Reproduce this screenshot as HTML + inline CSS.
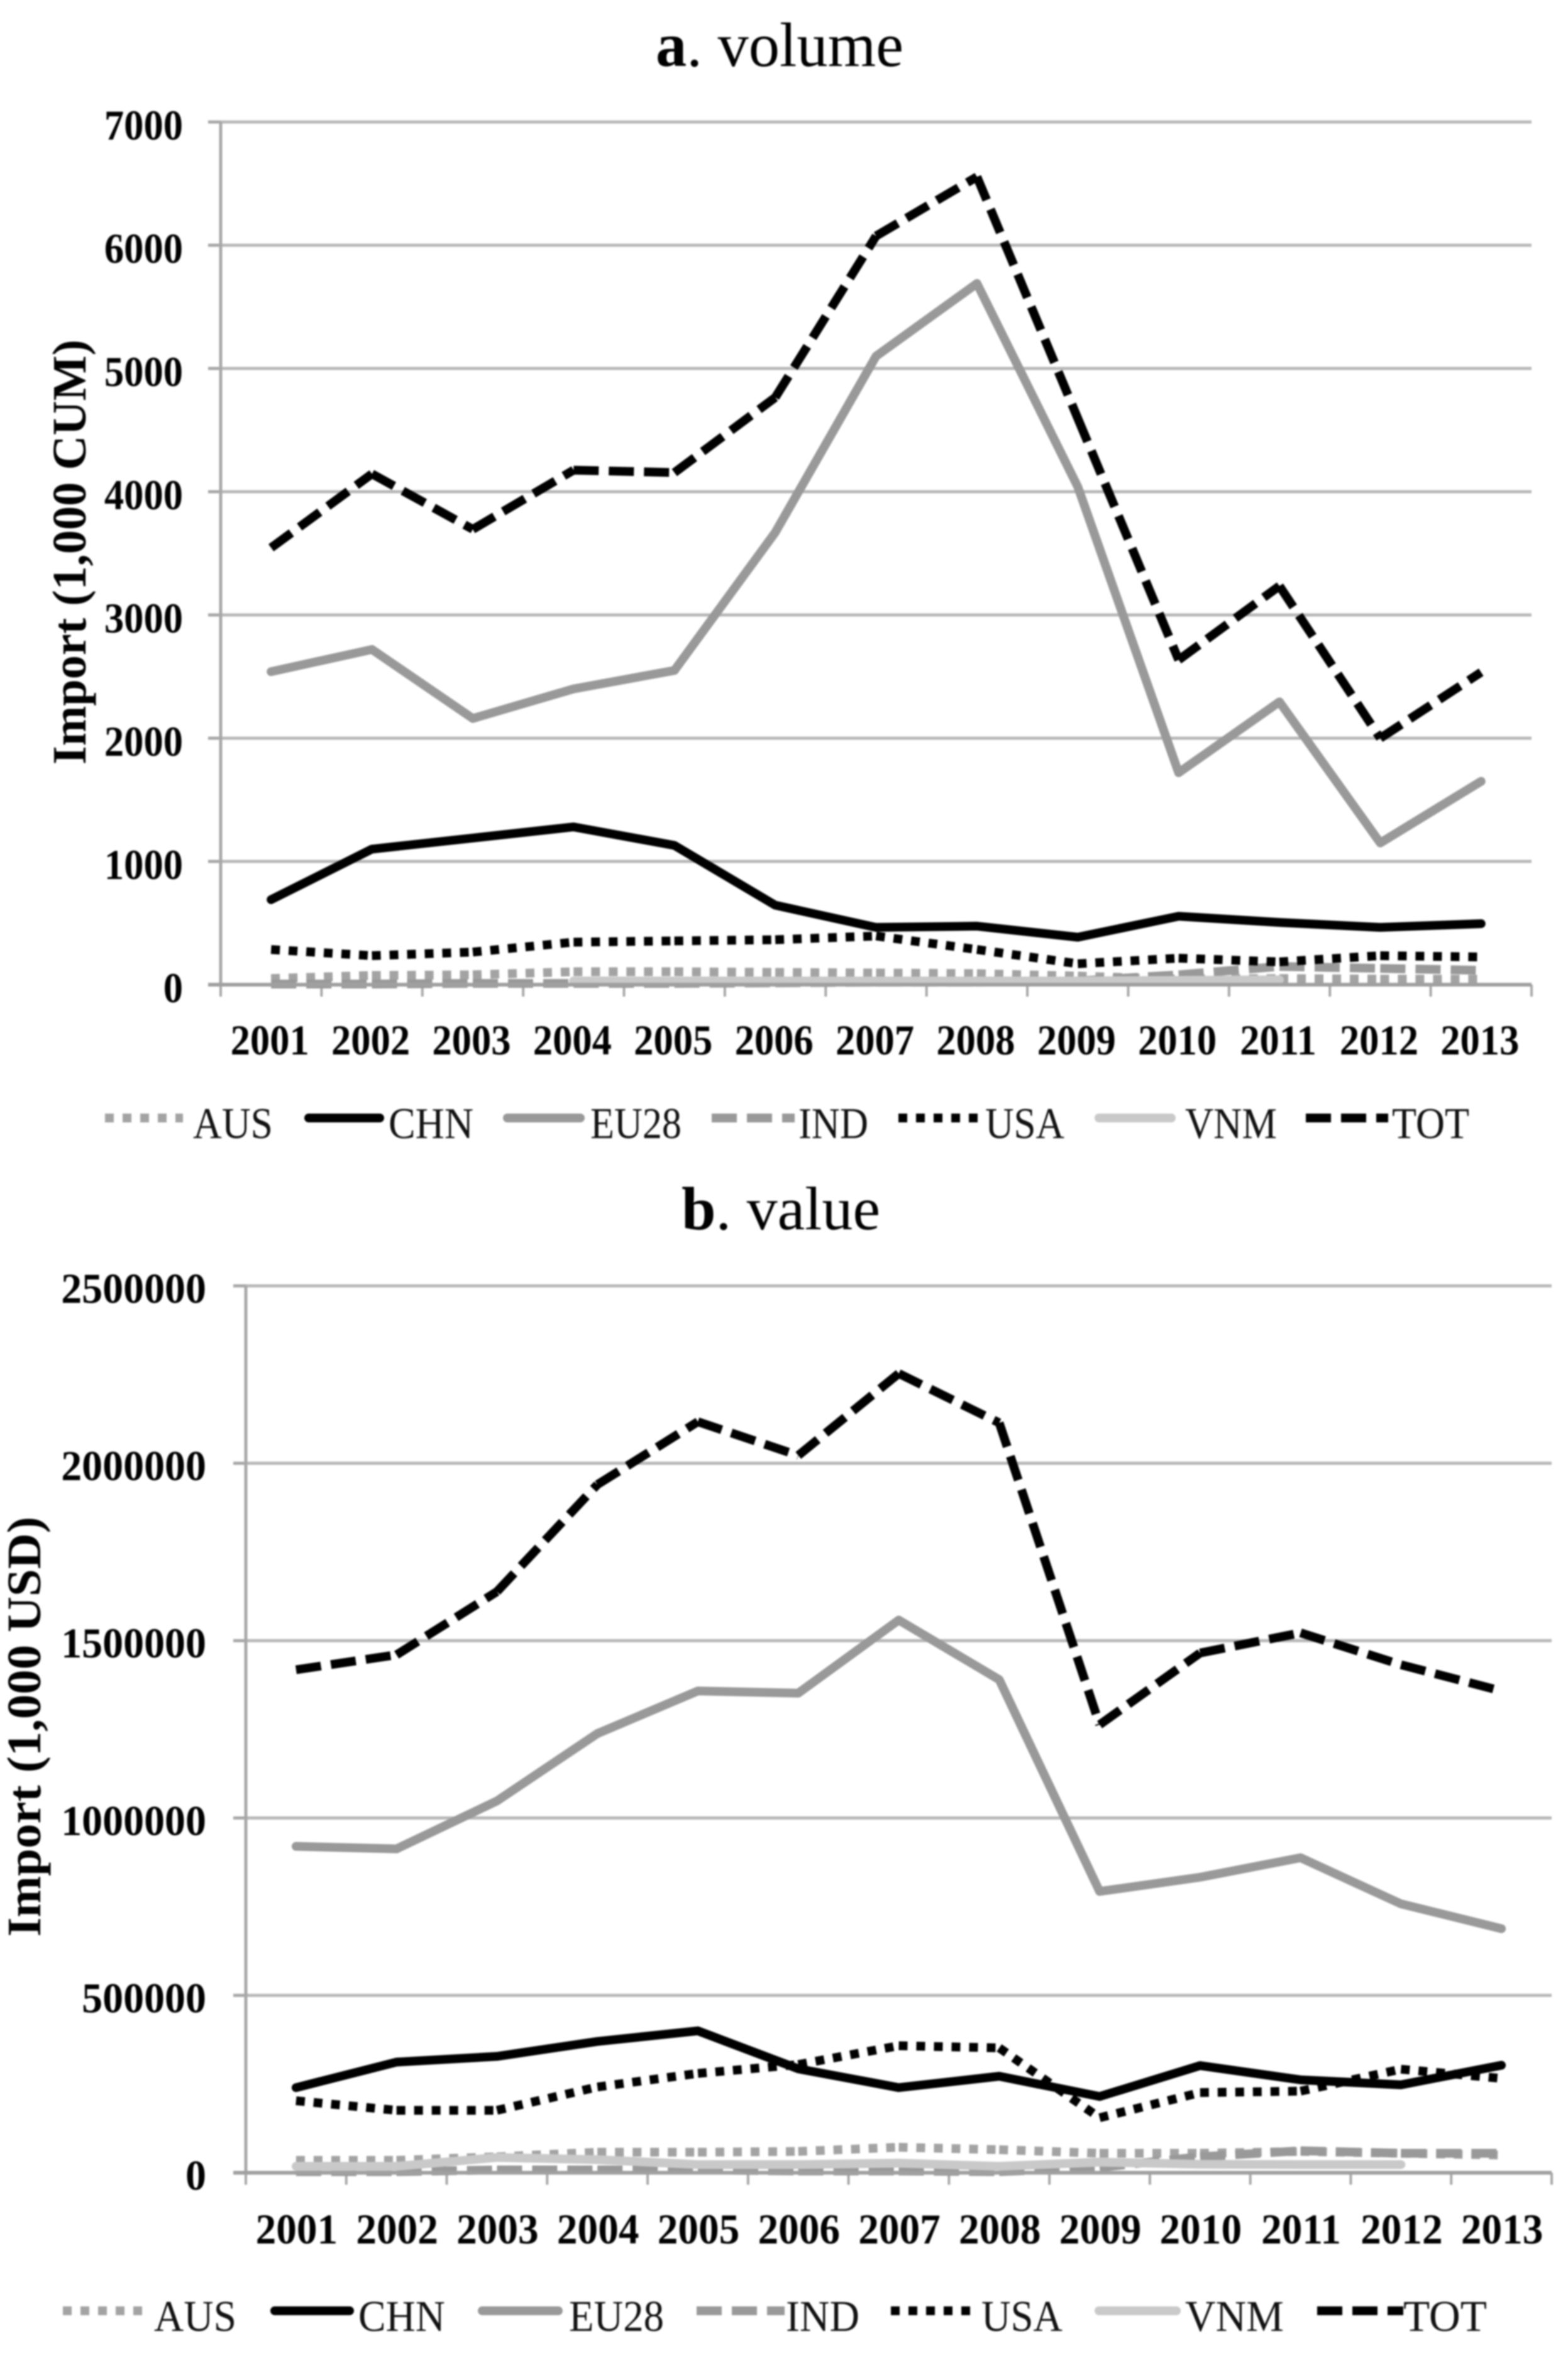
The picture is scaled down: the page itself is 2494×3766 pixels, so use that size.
<!DOCTYPE html>
<html lang="en">
<head>
<meta charset="utf-8">
<title>Import volume and value</title>
<style>
html,body{margin:0;padding:0;background:#fff;}
#figure{display:block;width:2494px;height:3766px;filter:blur(1.4px);font-family:"Liberation Serif",serif;background:#fff;}
.lg{font-size:70px;fill:#111;}
</style>
</head>
<body>
<svg id="figure" xmlns="http://www.w3.org/2000/svg" width="2494" height="3766" viewBox="0 0 2494 3766">
  <text x="1043" y="105" font-size="100" textLength="394" lengthAdjust="spacingAndGlyphs"><tspan font-weight="bold">a</tspan>. volume</text>
  <text x="1084" y="1955" font-size="98" textLength="316" lengthAdjust="spacingAndGlyphs"><tspan font-weight="bold">b</tspan>. value</text>
  <text transform="translate(136,878) rotate(-90)" text-anchor="middle" font-weight="bold" font-size="76" textLength="676" lengthAdjust="spacingAndGlyphs">Import (1,000 CUM)</text>
  <text transform="translate(64,2746) rotate(-90)" text-anchor="middle" font-weight="bold" font-size="76" textLength="668" lengthAdjust="spacingAndGlyphs">Import (1,000 USD)</text>
  <g id="chart-a"></g>
  <g id="chart-b"></g>

  <g>
    <g><line x1="167" y1="1778" x2="291" y2="1778" stroke="#a3a3a3" stroke-width="14" stroke-dasharray="14 14"/><text class="lg" x="307" y="1810" textLength="127" lengthAdjust="spacingAndGlyphs">AUS</text></g>
    <g><line x1="491" y1="1778" x2="604" y2="1778" stroke="#000" stroke-width="14" stroke-linecap="round"/><text class="lg" x="618" y="1810" textLength="135" lengthAdjust="spacingAndGlyphs">CHN</text></g>
    <g><line x1="807" y1="1778" x2="923" y2="1778" stroke="#999" stroke-width="14" stroke-linecap="round"/><text class="lg" x="939" y="1810" textLength="145" lengthAdjust="spacingAndGlyphs">EU28</text></g>
    <g><line x1="1132" y1="1778" x2="1264" y2="1778" stroke="#999" stroke-width="14" stroke-dasharray="40 16"/><text class="lg" x="1270" y="1810" textLength="111" lengthAdjust="spacingAndGlyphs">IND</text></g>
    <g><line x1="1429" y1="1778" x2="1555" y2="1778" stroke="#000" stroke-width="14" stroke-dasharray="14 14"/><text class="lg" x="1567" y="1810" textLength="126" lengthAdjust="spacingAndGlyphs">USA</text></g>
    <g><line x1="1748" y1="1778" x2="1863" y2="1778" stroke="#c9c9c9" stroke-width="14" stroke-linecap="round"/><text class="lg" x="1885" y="1810" textLength="146" lengthAdjust="spacingAndGlyphs">VNM</text></g>
    <g><line x1="2077" y1="1778" x2="2208" y2="1778" stroke="#000" stroke-width="14" stroke-dasharray="40 16"/><text class="lg" x="2214" y="1810" textLength="123" lengthAdjust="spacingAndGlyphs">TOT</text></g>
  </g>
  <g>
    <g><line x1="100" y1="3675" x2="230" y2="3675" stroke="#a3a3a3" stroke-width="14" stroke-dasharray="14 14"/><text class="lg" x="245" y="3707" textLength="131" lengthAdjust="spacingAndGlyphs">AUS</text></g>
    <g><line x1="437" y1="3675" x2="556" y2="3675" stroke="#000" stroke-width="14" stroke-linecap="round"/><text class="lg" x="570" y="3707" textLength="138" lengthAdjust="spacingAndGlyphs">CHN</text></g>
    <g><line x1="767" y1="3675" x2="888" y2="3675" stroke="#999" stroke-width="14" stroke-linecap="round"/><text class="lg" x="905" y="3707" textLength="151" lengthAdjust="spacingAndGlyphs">EU28</text></g>
    <g><line x1="1108" y1="3675" x2="1248" y2="3675" stroke="#999" stroke-width="14" stroke-dasharray="40 16"/><text class="lg" x="1250" y="3707" textLength="117" lengthAdjust="spacingAndGlyphs">IND</text></g>
    <g><line x1="1417" y1="3675" x2="1550" y2="3675" stroke="#000" stroke-width="14" stroke-dasharray="14 14"/><text class="lg" x="1561" y="3707" textLength="129" lengthAdjust="spacingAndGlyphs">USA</text></g>
    <g><line x1="1748" y1="3675" x2="1871" y2="3675" stroke="#c9c9c9" stroke-width="14" stroke-linecap="round"/><text class="lg" x="1885" y="3707" textLength="157" lengthAdjust="spacingAndGlyphs">VNM</text></g>
    <g><line x1="2095" y1="3675" x2="2232" y2="3675" stroke="#000" stroke-width="14" stroke-dasharray="40 16"/><text class="lg" x="2232" y="3707" textLength="133" lengthAdjust="spacingAndGlyphs">TOT</text></g>
  </g>
</svg>
<script>
const categories = ['2001','2002','2003','2004','2005','2006','2007','2008','2009','2010','2011','2012','2013'];

const volumeTicks = [0,1000,2000,3000,4000,5000,6000,7000];
const volumeAUS  = [50,75,80,105,105,100,95,90,70,45,50,45,45];
const volumeCHN  = [690,1100,1190,1280,1130,645,465,475,385,555,505,465,495];
const volumeEU28 = [2540,2720,2160,2400,2550,3670,5100,5690,4040,1720,2295,1150,1650];
const volumeIND  = [5,5,10,10,10,15,20,20,30,80,148,132,117];
const volumeUSA  = [285,235,265,345,355,365,395,285,170,215,185,235,225];
const volumeVNM  = [null,null,null,30,30,30,30,30,30,35,40,null,null];
const volumeTOT  = [3545,4145,3695,4175,4155,4765,6075,6555,4595,2635,3235,2000,2535];

const valueTicks = [0,500000,1000000,1500000,2000000,2500000];
const valueAUS  = [35000,35000,45000,58000,58000,60000,72000,65000,55000,55000,60000,55000,50000];
const valueCHN  = [240000,312000,328000,370000,400000,293000,240000,272000,215000,302000,262000,248000,303000];
const valueEU28 = [920000,913000,1048000,1238000,1358000,1352000,1558000,1390000,793000,833000,888000,758000,688000];
const valueIND  = [3000,3000,8000,8000,8000,5000,5000,3000,15000,45000,62000,55000,55000];
const valueUSA  = [203000,176000,176000,242000,280000,305000,358000,352000,155000,226000,230000,292000,266000];
const valueVNM  = [18000,18000,43000,37000,23000,23000,27000,18000,30000,24000,23000,23000,null];
const valueTOT  = [1418000,1460000,1638000,1940000,2117000,2022000,2253000,2114000,1263000,1465000,1522000,1432000,1358000];

const NS = 'http://www.w3.org/2000/svg';
const make = (parent, tag, attrs, txt) => {
  const el = document.createElementNS(NS, tag);
  for (const k in attrs) el.setAttribute(k, attrs[k]);
  if (txt !== undefined) el.textContent = txt;
  parent.appendChild(el);
  return el;
};

const styles = {
  AUS:  {stroke:'#a3a3a3', dash:'14 14'},
  CHN:  {stroke:'#000000', dash:null},
  EU28: {stroke:'#999999', dash:null},
  IND:  {stroke:'#999999', dash:'40 16'},
  USA:  {stroke:'#000000', dash:'14 14'},
  VNM:  {stroke:'#c9c9c9', dash:null},
  TOT:  {stroke:'#000000', dash:'40 16'}
};

function drawChart(root, cfg) {
  const band = (cfg.right - cfg.left) / categories.length;
  const xScale = i => cfg.left + band * (i + 0.5);
  const yScale = v => cfg.y0 - (v / cfg.max) * (cfg.y0 - cfg.yTop);

  cfg.ticks.forEach(t => {
    const y = yScale(t);
    if (t !== 0) {
      const grid = make(root, 'line', {x1:cfg.left, x2:cfg.right, y1:y, y2:y, stroke:'#b8b8b8', 'stroke-width':5});
      
      
    }
    const tick = make(root, 'line', {x1:cfg.left-20, x2:cfg.left, y1:y, y2:y, stroke:'#a8a8a8', 'stroke-width':5});
    
    
    const label = make(root, 'text', {
      transform:`translate(${cfg.labelRight},${y + cfg.labelDy}) scale(${cfg.yScaleX},1)`,
      'text-anchor':'end','font-weight':'bold','font-size':68
    }, String(t));
    
    
  });

  const yAxis = make(root, 'line', {x1:cfg.left, x2:cfg.left, y1:cfg.yTop, y2:cfg.y0, stroke:'#a8a8a8', 'stroke-width':5});
  
  

  for (let i = 0; i <= categories.length; i++) {
    const x = cfg.left + band * i;
    const tk = make(root, 'line', {x1:x, x2:x, y1:cfg.y0, y2:cfg.y0+19, stroke:'#a8a8a8', 'stroke-width':4});
    
    
  }
  categories.forEach((c, i) => {
    const lab = make(root, 'text', {
      transform:`translate(${xScale(i) - cfg.xLabelDx},${cfg.xLabelY}) scale(${cfg.xScaleX},1)`,
      'text-anchor':'middle','font-weight':'bold','font-size':68
    }, c);
    
    
  });

  Object.keys(cfg.series).forEach(key => {
    const vals = cfg.series[key];
    const st = styles[key];
    let d = '';
    let prev = false;
    vals.forEach((v, i) => {
      if (v === null) { prev = false; return; }
      const p = xScale(i).toFixed(1) + ' ' + yScale(v).toFixed(1);
      if (st.dash) {
        if (prev !== false) d += 'M' + prev + 'L' + p;
      } else {
        d += (prev === false ? 'M' : 'L') + p;
      }
      prev = p;
    });
    const attrs = {d:d, fill:'none', stroke:st.stroke, 'stroke-width':14, 'stroke-linejoin':'round'};
    if (st.dash) attrs['stroke-dasharray'] = st.dash; else attrs['stroke-linecap'] = 'round';
    const path = make(root, 'path', attrs);
    
    
  });

  const xAxis = make(root, 'line', {x1:cfg.left-20, x2:cfg.right, y1:cfg.y0, y2:cfg.y0, stroke:'#a0a0a0', 'stroke-width':6});
  
  
}

drawChart(document.getElementById('chart-a'), {
  left:351, right:2436, yTop:194, y0:1566, max:7000, ticks:volumeTicks,
  labelRight:291, labelDy:28, yScaleX:0.92, xLabelY:1677, xScaleX:0.92, xLabelDx:2,
  series:{AUS:volumeAUS,CHN:volumeCHN,EU28:volumeEU28,IND:volumeIND,USA:volumeUSA,VNM:volumeVNM,TOT:volumeTOT}
});
drawChart(document.getElementById('chart-b'), {
  left:391, right:2468, yTop:2045, y0:3455.5, max:2500000, ticks:valueTicks,
  labelRight:328, labelDy:27, yScaleX:0.97, xLabelY:3568, xScaleX:0.96, xLabelDx:-1,
  series:{AUS:valueAUS,CHN:valueCHN,EU28:valueEU28,IND:valueIND,USA:valueUSA,VNM:valueVNM,TOT:valueTOT}
});
</script>
</body>
</html>
